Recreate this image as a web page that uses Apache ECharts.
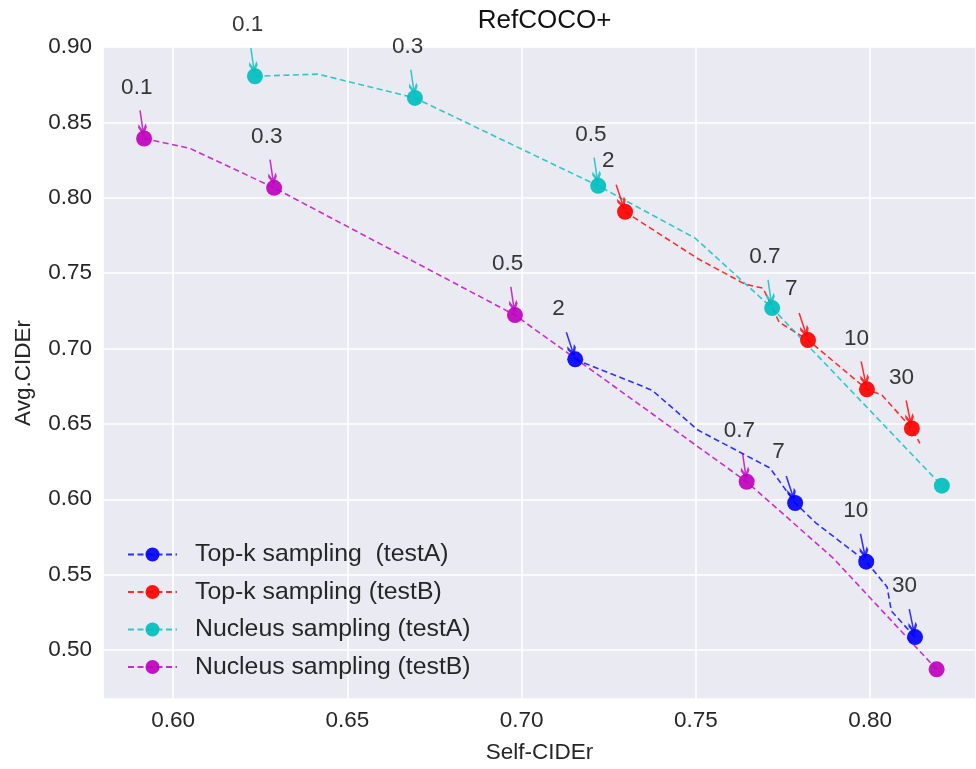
<!DOCTYPE html>
<html>
<head>
<meta charset="utf-8">
<title>RefCOCO+</title>
<script src="https://cdn.jsdelivr.net/npm/echarts@6/dist/echarts.min.js"></script>
<style>
  html, body { margin: 0; padding: 0; background: #fff; }
  #chart { width: 976px; height: 769px; }
</style>
</head>
<body>
<div id="chart"></div>
<script>
// line vertices: [Self-CIDEr, Avg.CIDEr]
const topkA = [[0.7154, 0.6928], [0.7374, 0.6724], [0.7506, 0.6459], [0.7713, 0.6207], [0.7785, 0.5975],
  [0.7845, 0.5842], [0.7989, 0.5586], [0.8049, 0.5418], [0.8061, 0.5259], [0.8129, 0.5086]]
const topkAMarks = [0, 4, 6, 9]
const topkALabels = ['2', '7', '10', '30']

const topkB = [[0.7297, 0.7907], [0.7504, 0.7599], [0.7641, 0.7427], [0.7693, 0.7400], [0.7739, 0.7175],
  [0.7822, 0.7056], [0.7991, 0.6729], [0.8034, 0.6691], [0.8120, 0.6470], [0.8143, 0.6371]]
const topkBMarks = [0, 5, 6, 8]
const topkBLabels = ['2', '7', '10', '30']

const nucA = [[0.6235, 0.8806], [0.6416, 0.8820], [0.6694, 0.8662], [0.7220, 0.8079], [0.7498, 0.7732],
  [0.7719, 0.7268], [0.8206, 0.6090]]
const nucAMarks = [0, 2, 3, 5, 6]
const nucALabels = ['0.1', '0.3', '0.5', '0.7', '']

const nucB = [[0.5917, 0.8393], [0.6049, 0.8327], [0.6290, 0.8066], [0.6981, 0.7222], [0.7646, 0.6116],
  [0.7894, 0.5610], [0.8191, 0.4872]]
const nucBMarks = [0, 2, 3, 4, 6]
const nucBLabels = ['0.1', '0.3', '0.5', '0.7', '']

const seriesNames = ['Top-k sampling  (testA)', 'Top-k sampling (testB)', 'Nucleus sampling (testA)', 'Nucleus sampling (testB)']
const seriesColors = ['#0000ff', '#ff0000', '#00bfbf', '#bf00bf']

const FONT = '"Liberation Sans", Arial, sans-serif'
const TEXT = '#262626'
const ARROW = 'path://M5 0L5 24M1 16L5 24L9 16'

const ctx = document.createElement('canvas').getContext('2d')
ctx.font = '22.5px "Liberation Sans"'

function lineSeries (i, pts, marks, labels) {
  const color = seriesColors[i]
  return {
    name: seriesNames[i],
    type: 'line',
    symbol: 'circle',
    symbolSize: 16,
    lineStyle: { color: color, width: 1.6, type: [6, 3.5], opacity: 0.8 },
    itemStyle: { color: color, opacity: 0.92 },
    label: {
      show: false,
      position: 'inside',
      offset: [-23, -51],
      align: 'left',
      verticalAlign: 'middle',
      fontSize: 22.5,
      fontFamily: FONT,
      color: TEXT
    },
    emphasis: { disabled: true },
    data: pts.map(function (p, j) {
      const k = marks.indexOf(j)
      if (k < 0) return { value: p, symbol: 'none' }
      const t = labels[k]
      return { value: p, label: { show: t !== '', formatter: t } }
    })
  }
}

// arrow pointing from the annotation text to the marker
function arrowSeries (i, pts, marks, labels) {
  const data = []
  marks.forEach(function (idx, k) {
    const t = labels[k]
    if (!t) return
    const cx = -23 + ctx.measureText(t).width / 2
    const cy = -51
    const len = Math.hypot(cx, cy)
    data.push({
      value: pts[idx],
      symbolOffset: [cx * 17 / len, cy * 17 / len],
      symbolRotate: Math.atan2(-cx, -cy) * 180 / Math.PI
    })
  })
  return {
    type: 'scatter',
    symbol: ARROW,
    symbolSize: [8, 23],
    silent: true,
    z: 3,
    itemStyle: { color: 'transparent', borderColor: seriesColors[i], borderWidth: 2.6 },
    data: data
  }
}

const axisText = { fontSize: 22.5, fontFamily: FONT, color: TEXT }

const option = {
  animation: false,
  backgroundColor: '#ffffff',
  title: {
    text: 'RefCOCO+',
    left: 539.5,
    textAlign: 'center',
    top: 3,
    textStyle: { fontSize: 26, fontWeight: 'normal', fontFamily: FONT, color: '#111111' }
  },
  legend: {
    data: seriesNames,
    orient: 'vertical',
    left: 122,
    top: 537,
    itemWidth: 49,
    itemHeight: 17.5,
    itemGap: 12.5,
    textStyle: { fontSize: 24.8, fontFamily: FONT, color: TEXT, padding: [0, 0, 0, 13] }
  },
  grid: {
    left: 103,
    right: 0,
    top: 47,
    bottom: 70,
    show: true,
    backgroundColor: '#eaeaf2',
    borderWidth: 0
  },
  xAxis: {
    type: 'value',
    min: 0.5799,
    max: 0.8304,
    splitNumber: 5,
    name: 'Self-CIDEr',
    nameLocation: 'middle',
    nameGap: 42,
    nameTextStyle: axisText,
    axisLine: { show: false },
    axisTick: { show: false },
    axisLabel: Object.assign({
      margin: 10,
      showMinLabel: false,
      showMaxLabel: false,
      formatter: function (v) { return v.toFixed(2) }
    }, axisText),
    splitLine: { show: true, lineStyle: { color: '#ffffff', width: 1.6 } }
  },
  yAxis: {
    type: 'value',
    min: 0.4675,
    max: 0.90,
    splitNumber: 9,
    name: 'Avg.CIDEr',
    nameLocation: 'middle',
    nameGap: 68,
    nameTextStyle: axisText,
    axisLine: { show: false },
    axisTick: { show: false },
    axisLabel: Object.assign({
      margin: 11,
      showMinLabel: false,
      formatter: function (v) { return v.toFixed(2) }
    }, axisText),
    splitLine: { show: true, lineStyle: { color: '#ffffff', width: 1.6 } }
  },
  series: [
    lineSeries(0, topkA, topkAMarks, topkALabels),
    lineSeries(1, topkB, topkBMarks, topkBLabels),
    lineSeries(2, nucA, nucAMarks, nucALabels),
    lineSeries(3, nucB, nucBMarks, nucBLabels),
    arrowSeries(0, topkA, topkAMarks, topkALabels),
    arrowSeries(1, topkB, topkBMarks, topkBLabels),
    arrowSeries(2, nucA, nucAMarks, nucALabels),
    arrowSeries(3, nucB, nucBMarks, nucBLabels)
  ]
}

const myChart = echarts.init(document.getElementById('chart'))
myChart.setOption(option)
</script>
</body>
</html>
